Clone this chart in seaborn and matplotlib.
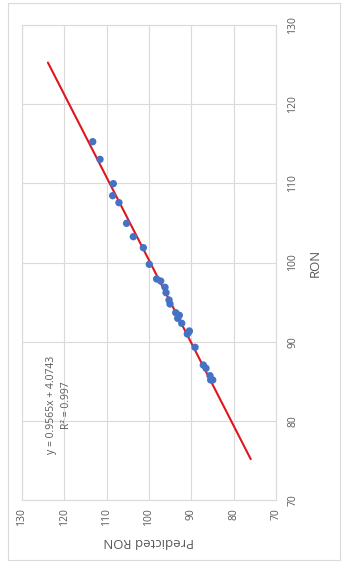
import matplotlib
matplotlib.use("Agg")
import matplotlib.pyplot as plt
import matplotlib.patches as mpatches
import numpy as np
import pandas as pd
import seaborn as sns

# Data (RON measured vs predicted)
ron = [115.26, 113.03, 109.96, 108.44, 107.56, 104.95, 103.26, 101.87, 99.77,
       97.92, 97.66, 96.87, 96.19, 95.26, 94.76, 93.66, 93.33, 92.95, 92.32,
       91.35, 91.22, 90.97, 89.29, 87.05, 86.64, 85.70, 85.16, 85.16]
predicted = [113.3, 111.57, 108.43, 108.58, 107.1, 105.3, 103.7, 101.34, 99.93,
             98.2, 97.24, 96.22, 95.98, 95.27, 95.04, 93.69, 92.84, 93.22, 92.27,
             90.47, 90.6, 90.95, 89.13, 87.17, 86.53, 85.59, 85.42, 84.95]
slope = 0.9565
intercept = 4.0743
r2 = 0.997
ticks = [70, 80, 90, 100, 110, 120, 130]

df = pd.DataFrame({"RON": ron, "Predicted RON": predicted})
trend_ron = np.array([min(ron) - 10, max(ron) + 10])
trend_df = pd.DataFrame({"RON": trend_ron, "Predicted RON": slope * trend_ron + intercept})

sns.set_theme(style="white")
plt.rcParams['font.family'] = ['Open Sans', 'DejaVu Sans']

W, H = 349, 566
fig = plt.figure(figsize=(W / 100, H / 100), dpi=100)
ax = fig.add_axes([22 / W, 1 - 500 / H, (276 - 22) / W, (500 - 25) / H])

grid_c = "#DADADA"
text_c = "#595959"

# rotated chart: horizontal = Predicted RON (inverted), vertical = RON
sns.lineplot(data=trend_df, x="Predicted RON", y="RON", color="#E0161E",
             linewidth=1.5, ax=ax, sort=False, zorder=2)
sns.scatterplot(data=df, x="Predicted RON", y="RON", color="#4472C4",
                s=28, edgecolor="none", ax=ax, zorder=3)

ax.set_xlim(130, 70)
ax.set_ylim(70, 130)
ax.set_xticks(ticks)
ax.set_yticks(ticks)
ax.grid(True, color=grid_c, linewidth=0.8)
ax.set_axisbelow(True)
for sp in ax.spines.values():
    sp.set_color(grid_c)
    sp.set_linewidth(0.8)

ax.yaxis.tick_right()
ax.yaxis.set_label_position("right")
ax.tick_params(axis="both", length=0, labelsize=7.5, labelcolor=text_c)
ax.tick_params(axis="x", pad=6)
ax.tick_params(axis="y", pad=8)
for lab in ax.get_xticklabels():
    lab.set_rotation(90)
for lab in ax.get_yticklabels():
    lab.set_rotation(90)
    lab.set_va("center")

ax.set_xlabel("Predicted RON", fontsize=9.5, color=text_c, rotation=180, labelpad=6)
ax.set_ylabel("RON", fontsize=9.5, color=text_c, rotation=90, labelpad=8)

ax.text(0.146, 0.2, f"y = {slope}x + {intercept}\nR\u00b2 = {r2}", transform=ax.transAxes,
        rotation=90, ha="center", va="center", multialignment="center",
        fontsize=7.5, color=text_c, linespacing=1.6)

# outer chart frame
fig.patches.append(mpatches.Rectangle((8 / W, 1 - 560 / H), (340 - 8) / W, (560 - 3) / H,
                                      transform=fig.transFigure, fill=False,
                                      edgecolor=grid_c, linewidth=0.8))

fig.savefig("out.png", dpi=100)
